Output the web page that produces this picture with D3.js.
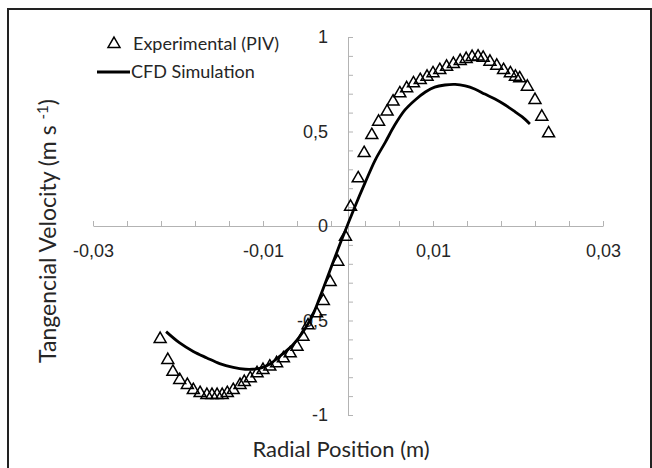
<!DOCTYPE html>
<html>
<head>
<meta charset="utf-8">
<script src="https://cdn.jsdelivr.net/npm/d3@7"></script>
<style>
  body { margin: 0; background: #fff; }
  svg { display: block; font-family: Lato, "Open Sans", sans-serif; }
</style>
</head>
<body>
<svg id="chart"></svg>
<script>
// experimental (PIV) points: radial position (m) and tangential velocity (m/s)
var expX = [-0.0221, -0.0212, -0.0206, -0.0198, -0.0189, -0.0182, -0.0174, -0.0166, -0.0160, -0.0154,
  -0.0148, -0.0142, -0.0135, -0.0127, -0.0122, -0.0115, -0.0107, -0.0100, -0.0092, -0.0084,
  -0.0076, -0.0068, -0.0060, -0.0053, -0.0047, -0.0037, -0.0029, -0.0021, -0.0012, -0.0003,
  0.0003, 0.0012, 0.0019, 0.0028, 0.0036, 0.0046, 0.0053, 0.0061, 0.0069, 0.0077,
  0.0085, 0.0093, 0.0100, 0.0108, 0.0116, 0.0124, 0.0132, 0.0139, 0.0146, 0.0153,
  0.0159, 0.0167, 0.0175, 0.0183, 0.0191, 0.0197, 0.0202, 0.0211, 0.0220, 0.0228, 0.0236];
var expY = [-0.598, -0.709, -0.772, -0.815, -0.841, -0.868, -0.884, -0.894, -0.894, -0.894,
  -0.894, -0.884, -0.868, -0.841, -0.825, -0.806, -0.779, -0.762, -0.744, -0.726,
  -0.700, -0.674, -0.639, -0.586, -0.526, -0.462, -0.397, -0.296, -0.189, -0.057,
  0.102, 0.252, 0.386, 0.481, 0.552, 0.605, 0.658, 0.702, 0.729, 0.755,
  0.772, 0.790, 0.808, 0.825, 0.843, 0.857, 0.873, 0.884, 0.894, 0.896,
  0.890, 0.869, 0.848, 0.825, 0.808, 0.790, 0.781, 0.737, 0.667, 0.578, 0.490];

// CFD simulation curve
var cfdX = [-0.0214, -0.0198, -0.0182, -0.0166, -0.0151, -0.0135, -0.0121, -0.0112, -0.0101, -0.0092,
  -0.0080, -0.0065, -0.0053, -0.0042, -0.0033, -0.0021, -0.0009, -0.0001, 0.0008, 0.0020,
  0.0032, 0.0044, 0.0055, 0.0067, 0.0079, 0.0091, 0.0102, 0.0114, 0.0126, 0.0138,
  0.0149, 0.0161, 0.0173, 0.0185, 0.0197, 0.0205, 0.0214];
var cfdY = [-0.559, -0.619, -0.664, -0.698, -0.728, -0.748, -0.758, -0.758, -0.749, -0.730,
  -0.688, -0.630, -0.561, -0.476, -0.376, -0.233, -0.090, 0.000, 0.101, 0.228,
  0.349, 0.444, 0.534, 0.614, 0.667, 0.709, 0.735, 0.746, 0.749, 0.741,
  0.725, 0.698, 0.672, 0.640, 0.603, 0.577, 0.540];

var xTicks = [-0.03, -0.026, -0.022, -0.018, -0.014, -0.01, -0.006, -0.002,
  0.002, 0.006, 0.01, 0.014, 0.018, 0.022, 0.026, 0.03];
var xLabels = [-0.03, -0.01, 0.01, 0.03];
var yTicks = [-1, -0.9, -0.8, -0.7, -0.6, -0.5, -0.4, -0.3, -0.2, -0.1, 0,
  0.1, 0.2, 0.3, 0.4, 0.5, 0.6, 0.7, 0.8, 0.9, 1];
var yLabels = [-1, -0.5, 0, 0.5, 1];

var svgWidth = 652, svgHeight = 468;
var svg = d3.select("#chart").attr("width", svgWidth).attr("height", svgHeight);

// chart frame
svg.append("rect")
  .attr("x", 8).attr("y", 9).attr("width", 643).attr("height", 470)
  .attr("fill", "none").attr("stroke", "#222").attr("stroke-width", 2);

var x = d3.scaleLinear().domain([-0.03, 0.03]).range([93, 603]);
var y = d3.scaleLinear().domain([-1, 1]).range([415, 37]);

var comma = d => String(d).replace(".", ",");
var axisColor = "#b3b3b3", textColor = "#262626";

// x axis crosses at y = 0, ticks point up
var xAxis = svg.append("g")
  .attr("transform", `translate(0,${y(0)})`)
  .call(d3.axisBottom(x).tickValues(xTicks).tickSize(-5).tickSizeOuter(0)
    .tickPadding(18).tickFormat(d => xLabels.some(v => Math.abs(v - d) < 1e-9) ? comma(d) : ""));

// y axis crosses at x = 0, ticks point right
var yAxis = svg.append("g")
  .attr("transform", `translate(${x(0)},0)`)
  .call(d3.axisLeft(y).tickValues(yTicks).tickSize(-5).tickSizeOuter(0)
    .tickPadding(20).tickFormat(d => yLabels.some(v => Math.abs(v - d) < 1e-9) ? comma(d) : ""));

[xAxis, yAxis].forEach(function(g) {
  g.selectAll("path, line").attr("stroke", axisColor);
  g.selectAll("text").attr("fill", textColor).style("font-size", "18px");
});

// CFD line
var line = d3.line().x((d, i) => x(cfdX[i])).y((d, i) => y(cfdY[i])).curve(d3.curveCatmullRom);
svg.append("path")
  .datum(cfdY)
  .attr("d", line)
  .attr("fill", "none")
  .attr("stroke", "#000")
  .attr("stroke-width", 2.8);

// PIV triangles
var tri = d3.symbol().type(d3.symbolTriangle).size(62);
svg.selectAll("path.piv")
  .data(expY)
  .enter().append("path")
  .attr("class", "piv")
  .attr("d", tri)
  .attr("transform", (d, i) => `translate(${x(expX[i])},${y(d)})`)
  .attr("fill", "none")
  .attr("stroke", "#000")
  .attr("stroke-width", 1.5);

// legend
svg.append("path")
  .attr("d", tri)
  .attr("transform", "translate(114,44)")
  .attr("fill", "none").attr("stroke", "#000").attr("stroke-width", 1.5);
svg.append("text")
  .attr("x", 133).attr("y", 50)
  .attr("fill", textColor).style("font-size", "18px")
  .text("Experimental (PIV)");
svg.append("line")
  .attr("x1", 97).attr("x2", 130).attr("y1", 72).attr("y2", 72)
  .attr("stroke", "#000").attr("stroke-width", 2.8);
svg.append("text")
  .attr("x", 131).attr("y", 78)
  .attr("fill", textColor).style("font-size", "18px")
  .text("CFD Simulation");

// axis titles
svg.append("text")
  .attr("x", 341).attr("y", 457)
  .attr("text-anchor", "middle")
  .attr("fill", textColor).style("font-size", "22px")
  .text("Radial Position (m)");

var yTitle = svg.append("text")
  .attr("transform", "translate(56,231) rotate(-90)")
  .attr("text-anchor", "middle")
  .attr("fill", textColor).style("font-size", "23px");
yTitle.append("tspan").text("Tangencial Velocity (m s ");
yTitle.append("tspan").attr("dy", -8).style("font-size", "15px").text("-1");
yTitle.append("tspan").attr("dy", 8).text(")");
</script>
</body>
</html>
